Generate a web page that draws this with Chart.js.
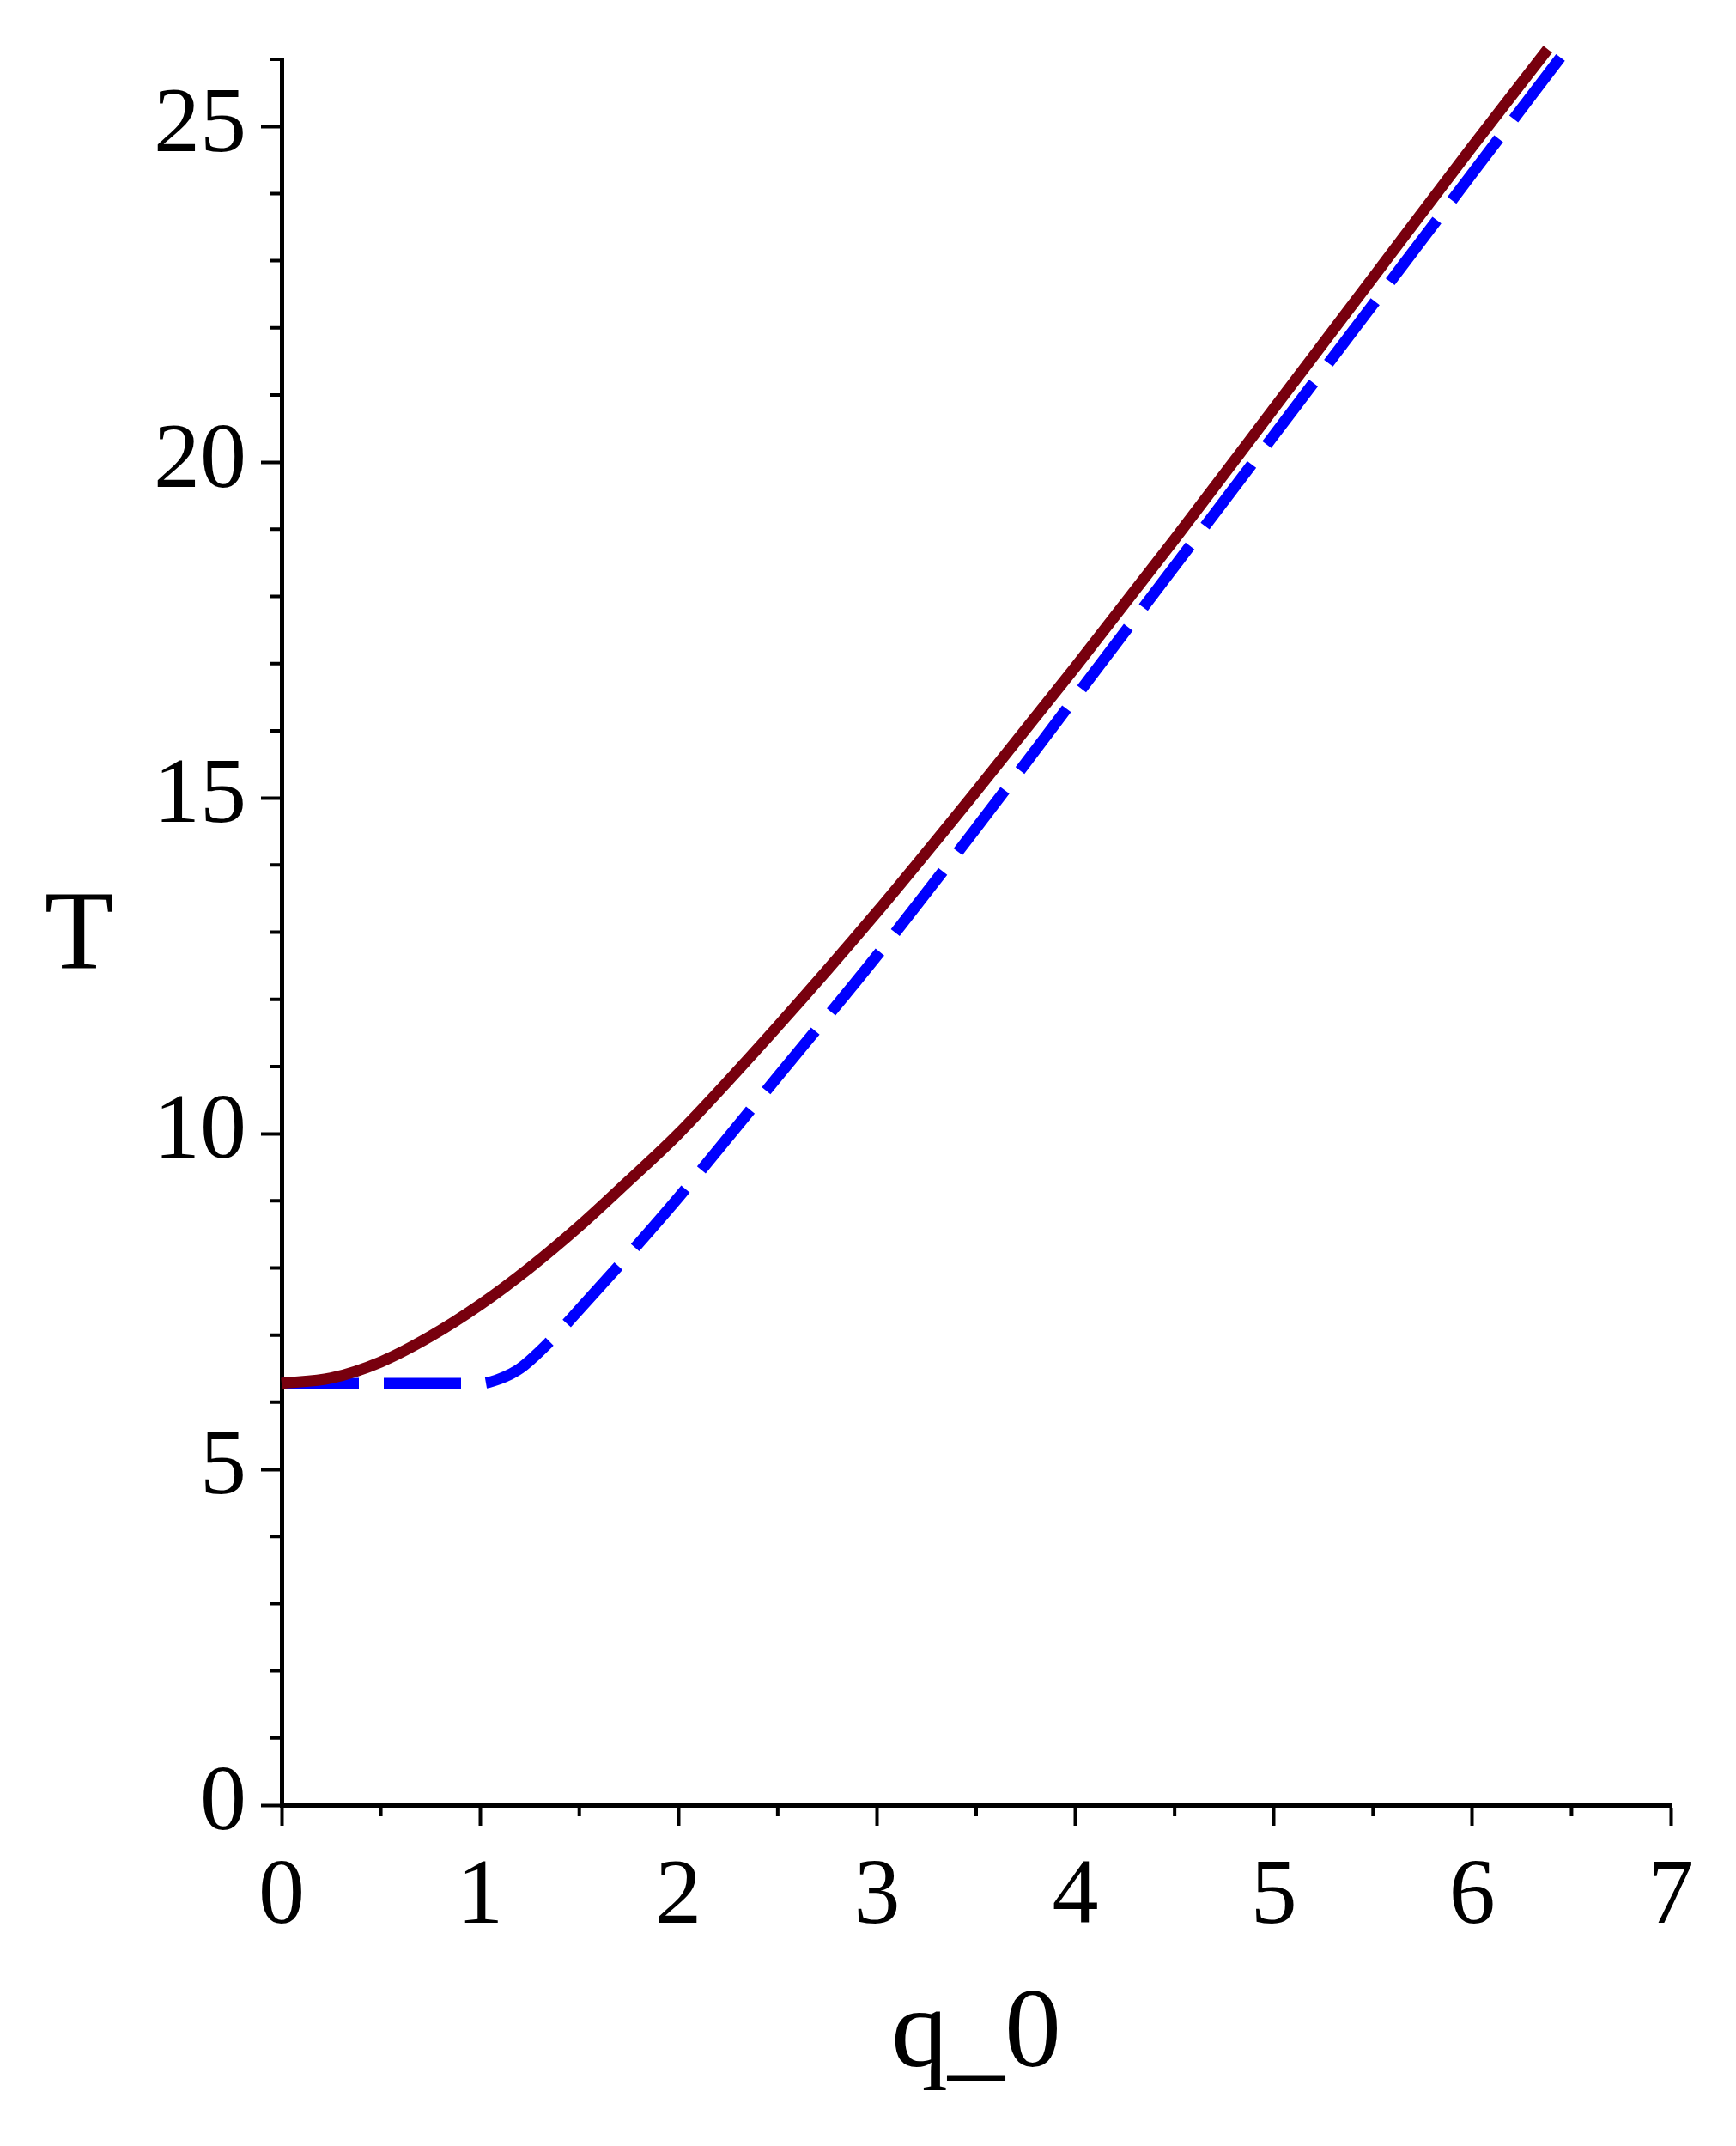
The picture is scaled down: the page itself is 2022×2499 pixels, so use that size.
<!DOCTYPE html>
<html lang="en">
<head>
    <meta charset="UTF-8">
    <title>T vs q_0</title>
    <script src="https://cdn.jsdelivr.net/npm/chart.js"></script>
    <style>
        html, body { margin: 0; padding: 0; background: #fff; }
        #wrap { width: 2022px; height: 2499px; }
    </style>
</head>
<body>
    <div id="wrap"><canvas id="tChart"></canvas></div>

    <script>
        // Solid curve (dark red)
        const qSolid = [0, 0.25, 0.5, 0.75, 1.0, 1.25, 1.5, 1.75, 2.0, 2.5, 3.0, 3.5, 4.0, 4.5, 5.0, 5.5, 6.0, 6.38];
        const tSolid = [6.28, 6.36, 6.6, 6.98, 7.45, 8.0, 8.62, 9.3, 10.0, 11.6, 13.3, 15.1, 16.95, 18.85, 20.8, 22.75, 24.7, 26.15];

        // Dashed curve (blue)
        const qDashed = [0, 0.5, 1.0, 1.1, 1.2, 1.35, 1.5, 1.75, 2.0, 2.5, 3.0, 3.5, 4.0, 4.5, 5.0, 5.5, 6.0, 6.45];
        const tDashed = [6.28, 6.28, 6.28, 6.35, 6.5, 6.9, 7.38, 8.2, 9.05, 10.85, 12.65, 14.55, 16.5, 18.45, 20.4, 22.35, 24.3, 26.05];

        // Axis ticks
        const xMajor = [0, 1, 2, 3, 4, 5, 6, 7];
        const xMinor = [0.5, 1.5, 2.5, 3.5, 4.5, 5.5, 6.5];
        const yMajor = [0, 5, 10, 15, 20, 25];

        const toPoints = (xs, ys) => xs.map((x, i) => ({ x: x, y: ys[i] }));

        const serif = '"Times New Roman", "Liberation Serif", Times, Tinos, serif';

        // minor ticks and the horizontal "T" label
        const extras = {
            id: 'extras',
            afterDraw(chart) {
                const ctx = chart.ctx;
                const area = chart.chartArea;
                const xs = chart.scales.x, ys = chart.scales.y;
                ctx.save();
                ctx.strokeStyle = '#000';
                ctx.lineWidth = 4;
                ctx.beginPath();
                xMinor.forEach(v => {
                    const px = xs.getPixelForValue(v);
                    ctx.moveTo(px, area.bottom);
                    ctx.lineTo(px, area.bottom + 13);
                });
                for (let v = 0; v <= 26; v++) {
                    if (yMajor.includes(v)) continue;
                    const py = ys.getPixelForValue(v);
                    ctx.moveTo(area.left - 13, py);
                    ctx.lineTo(area.left, py);
                }
                ctx.stroke();

                ctx.fillStyle = '#000';
                ctx.font = '132px ' + serif;
                ctx.textAlign = 'center';
                ctx.textBaseline = 'middle';
                ctx.fillText('T', 92, (area.top + area.bottom) / 2 + 8);
                ctx.restore();
            }
        };

        const ctx = document.getElementById('tChart').getContext('2d');
        const tChart = new Chart(ctx, {
            type: 'scatter',
            data: {
                datasets: [{
                    data: toPoints(qSolid, tSolid),
                    showLine: true,
                    borderColor: '#78000E',
                    borderWidth: 13,
                    pointRadius: 0,
                    cubicInterpolationMode: 'monotone',
                    clip: 20
                }, {
                    data: toPoints(qDashed, tDashed),
                    showLine: true,
                    borderColor: '#0000FF',
                    borderWidth: 13,
                    borderDash: [90, 29],
                    borderCapStyle: 'butt',
                    pointRadius: 0,
                    cubicInterpolationMode: 'monotone',
                    clip: 20
                }]
            },
            options: {
                responsive: true,
                maintainAspectRatio: false,
                animation: false,
                layout: { padding: { left: 0, top: 69, right: 76, bottom: 0 } },
                plugins: {
                    legend: { display: false },
                    tooltip: { enabled: false }
                },
                scales: {
                    x: {
                        type: 'linear',
                        min: 0,
                        max: 7,
                        afterFit: (s) => { s.height = 397; s.paddingLeft = 0; s.paddingRight = 0; },
                        afterBuildTicks: (s) => { s.ticks = xMajor.map(v => ({ value: v })); },
                        border: { display: true, color: '#000', width: 5 },
                        grid: {
                            drawOnChartArea: false,
                            drawTicks: true,
                            tickLength: 24,
                            tickWidth: 4,
                            tickColor: '#000'
                        },
                        ticks: {
                            autoSkip: false,
                            maxRotation: 0,
                            padding: 20,
                            color: '#000',
                            font: { family: serif, size: 108 }
                        },
                        title: {
                            display: true,
                            text: 'q_0',
                            color: '#000',
                            font: { family: serif, size: 132 },
                            padding: { top: 0, bottom: 48 }
                        }
                    },
                    y: {
                        type: 'linear',
                        min: 0,
                        max: 26,
                        afterFit: (s) => { s.width = 328; s.paddingTop = 0; s.paddingBottom = 0; },
                        afterBuildTicks: (s) => { s.ticks = yMajor.map(v => ({ value: v })); },
                        border: { display: true, color: '#000', width: 5 },
                        grid: {
                            drawOnChartArea: false,
                            drawTicks: true,
                            tickLength: 24,
                            tickWidth: 4,
                            tickColor: '#000'
                        },
                        ticks: {
                            autoSkip: false,
                            padding: 17,
                            color: '#000',
                            font: { family: serif, size: 108 }
                        }
                    }
                }
            },
            plugins: [extras]
        });
    </script>
</body>
</html>
